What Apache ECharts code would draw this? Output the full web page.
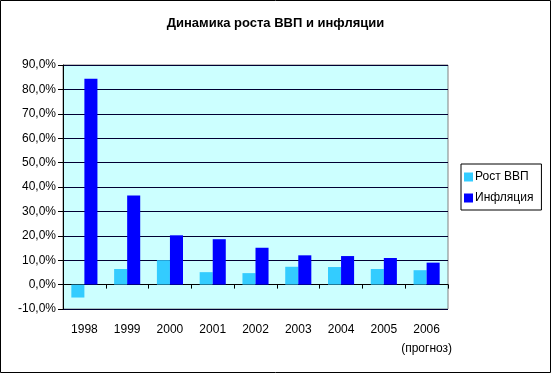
<!DOCTYPE html>
<html><head><meta charset="utf-8">
<script src="https://cdn.jsdelivr.net/npm/echarts@6/dist/echarts.min.js"></script>
<style>html,body{margin:0;padding:0;background:#fff}#c{width:551px;height:373px}</style>
</head><body><div id="c"></div>
<script>
const years = ['1998','1999','2000','2001','2002','2003','2004','2005','2006'];
const yearLabels = ['1998','1999','2000','2001','2002','2003','2004','2005','2006\n(прогноз)'];
const gdpGrowth = [-5.3, 6.4, 10.0, 5.1, 4.7, 7.3, 7.2, 6.4, 5.9];
const inflation = [84.4, 36.5, 20.2, 18.6, 15.1, 12.0, 11.7, 10.9, 9.0];
const seriesNames = ['Рост ВВП', 'Инфляция'];
const titleText = 'Динамика роста ВВП и инфляции';

const chart = echarts.init(document.getElementById('c'), null, {renderer:'canvas'});
const font = 'Arial, "Liberation Sans", sans-serif';
chart.setOption({
  animation:false,
  backgroundColor:'#ffffff',
  title:{text:titleText,left:'center',top:12,textStyle:{fontFamily:font,fontSize:13,fontWeight:'bold',color:'#000'}},
  graphic:[{type:'rect',shape:{x:0.5,y:0.5,width:550,height:372},style:{fill:'none',stroke:'#000',lineWidth:1},silent:true}],
  legend:{
    data:seriesNames, orient:'vertical', left:461, top:164,
    itemWidth:9, itemHeight:9, itemGap:9, icon:'rect',
    padding:[7,8,6,3], borderColor:'#000', borderWidth:1,
    textStyle:{fontFamily:font,fontSize:12,color:'#000',padding:[0,0,0,-3]}
  },
  grid:{left:63,right:103,top:65,bottom:64,show:true,backgroundColor:'#CCFFFF',borderColor:'#808080',borderWidth:1},
  xAxis:[{
    type:'category', data:yearLabels, position:'bottom',
    axisLine:{show:false,onZero:false}, axisTick:{show:false},
    axisLabel:{interval:0,fontFamily:font,fontSize:12,color:'#000',margin:11,lineHeight:19,verticalAlign:'top'}
  },{
    type:'category', data:years, position:'bottom',
    axisLine:{show:true,onZero:true,lineStyle:{color:'#000',width:1}},
    axisTick:{show:true,interval:0,length:4,lineStyle:{color:'#000'}},
    axisLabel:{show:false}
  }],
  yAxis:{
    type:'value', min:-10, max:90, interval:10,
    axisLine:{show:true,lineStyle:{color:'#000'}},
    axisTick:{show:true,length:5,lineStyle:{color:'#000'}},
    splitLine:{show:true,lineStyle:{color:'#000033',width:1}},
    axisLabel:{fontFamily:font,fontSize:12,color:'#000',margin:7,
      formatter:v=>v.toFixed(1).replace('.',',')+'%'}
  },
  series:[
    {name:seriesNames[0],type:'bar',data:gdpGrowth,itemStyle:{color:'#33CCFF'},barGap:'0%',barCategoryGap:'39%'},
    {name:seriesNames[1],type:'bar',data:inflation,itemStyle:{color:'#0000FF'},barGap:'0%',barCategoryGap:'39%'}
  ]
});
</script></body></html>
